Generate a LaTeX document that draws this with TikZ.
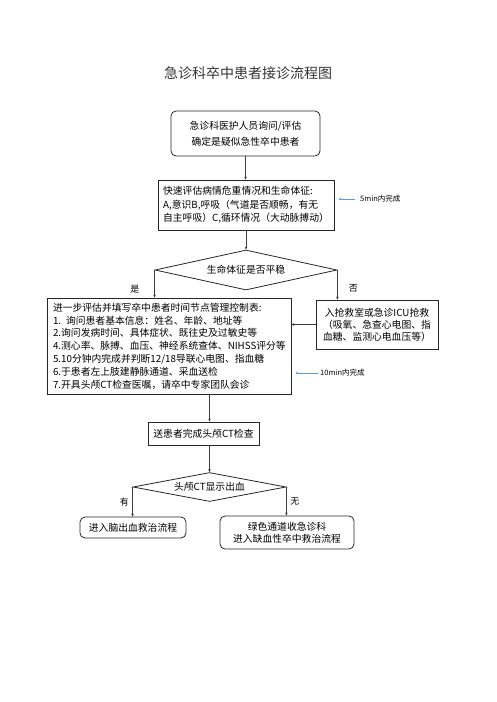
\documentclass[tikz,border=0pt]{standalone}
\usepackage{fontspec}
\setmainfont{Noto Sans CJK SC}
\usetikzlibrary{
	arrows.meta,
	positioning,
	shapes.geometric,
	calc,
}
\definecolor{LineGray}{HTML}{3c3c3c}
\definecolor{NoteBlue}{HTML}{5b9bd5}

\begin{document}
\begin{tikzpicture}[
		x=1pt, y=-1pt,
		every node/.style={font=\fontsize{9.8}{13}\selectfont},
		box/.style = {rectangle, draw=black!85, line width=0.8pt,
			inner sep=0pt, align=center},
		rbox/.style = {box, rounded corners=5pt},
		decision/.style = {diamond, draw=black!85, line width=0.8pt,
			inner sep=0pt, aspect=5},
		line/.style = {draw=LineGray, line width=0.7pt,
			-{Stealth[length=3pt, width=2.6pt]}},
		lbl/.style = {inner sep=0pt, font=\fontsize{9}{10}\selectfont},
		note/.style = {inner sep=0pt, anchor=west,
			font=\fontsize{7.5}{9}\selectfont},
		noteline/.style = {draw=NoteBlue, line width=0.6pt,
			-{Stealth[length=2.6pt, width=2.4pt]}},
	]
	\useasboundingbox (0,0) rectangle (496,702);
	\node[font=\fontsize{14}{16}\selectfont, text=black!80] (title) at (248,73) {急诊科卒中患者接诊流程图};
	% assessment steps
	\node[rbox, minimum width=149pt, minimum height=45pt,
		font=\fontsize{9.8}{16}\selectfont] (b1) at (245.5,133.5)
		{急诊科医护人员询问/评估\\确定是疑似急性卒中患者};
	\node[box, minimum width=176pt, minimum height=50pt, align=left,
		font=\fontsize{9.8}{13.5}\selectfont] (b2) at (246,205)
		{快速评估病情危重情况和生命体征:\\
		 A,意识B,呼吸（气道是否顺畅，有无\\
		 自主呼吸）C,循环情况（大动脉搏动）};
	\node[decision, minimum width=182pt, minimum height=40pt] (d1) at (246,270) {生命体征是否平稳};
	\node[box, text width=232pt, inner xsep=6pt, minimum height=96pt, align=left,
		font=\fontsize{9.8}{12.8}\selectfont] (b3) at (169,346)
		{进一步评估并填写卒中患者时间节点管理控制表:\\
		 1. 询问患者基本信息：姓名、年龄、地址等\\
		 2.询问发病时间、具体症状、既往史及过敏史等\\
		 4.测心率、脉搏、血压、神经系统查体、NIHSS评分等\\
		 5.10分钟内完成并判断12/18导联心电图、指血糖\\
		 6.于患者左上肢建静脉通道、采血送检\\
		 7.开具头颅CT检查医嘱，请卒中专家团队会诊};
	\node[box, minimum width=122pt, minimum height=49pt,
		font=\fontsize{9.8}{12}\selectfont] (b4) at (377,324.5)
		{入抢救室或急诊ICU抢救\\（吸氧、急查心电图、指\\血糖、监测心电血压等）};
	% CT and outcomes
	\node[box, minimum width=111pt, minimum height=23pt] (b5) at (203.5,433.5) {送患者完成头颅CT检查};
	\node[decision, minimum width=153pt, minimum height=29pt] (d2) at (209.5,487) {头颅CT显示出血};
	\node[rbox, minimum width=106pt, minimum height=21pt] (b6) at (133,527.5) {进入脑出血救治流程};
	\node[rbox, minimum width=134pt, minimum height=33pt,
		font=\fontsize{9.8}{12}\selectfont] (b7) at (287,532.5)
		{绿色通道收急诊科\\进入缺血性卒中救治流程};
	% connectors
	\draw[line] (b1.south) -- (b1.south |- b2.north);
	\draw[line] (b2.south) -- (b2.south |- d1.north);
	\draw[line] (d1.west) -- node[lbl, pos=.68, left=15pt] {是} (d1.west |- b3.north);
	\draw[line] (d1.east) -- node[lbl, pos=.63, right=11pt] {否} (d1.east |- b4.north);
	\draw[line] (b4.west) -- (b4.west -| b3.east);
	\draw[line] (d2.north |- b3.south) -- (d2.north |- b5.north);
	\draw[line] (d2.north |- b5.south) -- (d2.north);
	\draw[line] (d2.west) -- node[lbl, left=3.5pt] {有} (d2.west |- b6.north);
	\draw[line] (d2.east) -- node[lbl, right=3.5pt] {无} (d2.east |- b7.north);
	% time notes
	\node[note] (n1) at (360,199) {5min内完成};
	\draw[noteline, shorten <=5pt, shorten >=4pt] (n1.west) -- (n1.west -| b2.east);
	\node[note] (n2) at (320,373) {10min内完成};
	\draw[noteline, shorten <=2pt, shorten >=4pt] (n2.west) -- (n2.west -| b3.east);
\end{tikzpicture}
\end{document}
